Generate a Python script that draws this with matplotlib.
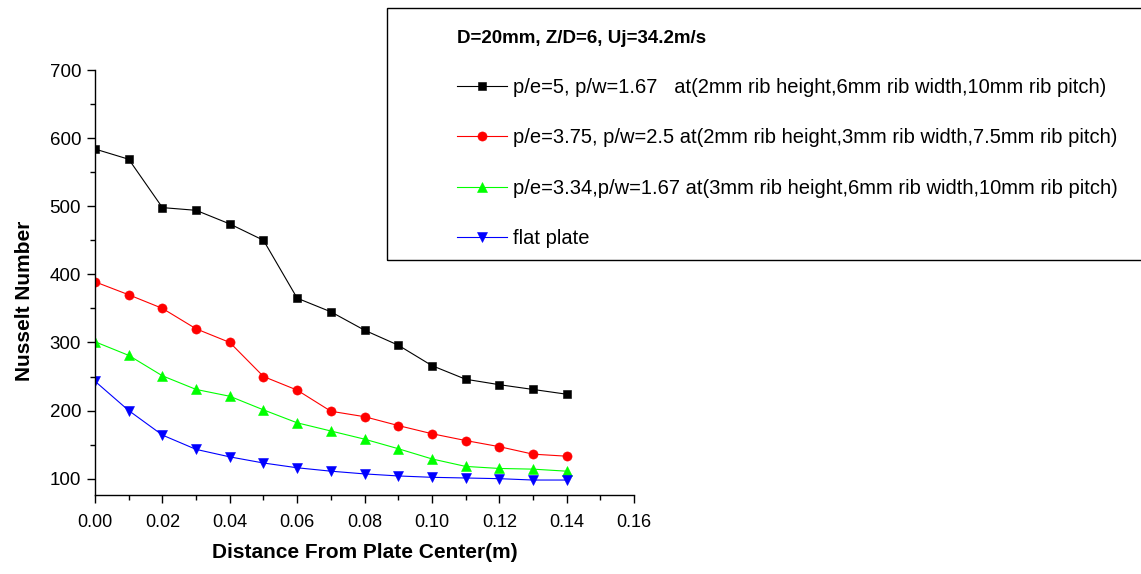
import matplotlib
matplotlib.use("Agg")
import matplotlib.pyplot as plt
from matplotlib.patches import Rectangle
from matplotlib.ticker import MultipleLocator, FormatStrFormatter

plt.rcParams['font.family'] = ['Liberation Sans', 'DejaVu Sans']

# distance from plate center (m)
distance = [0.00, 0.01, 0.02, 0.03, 0.04, 0.05, 0.06, 0.07,
            0.08, 0.09, 0.10, 0.11, 0.12, 0.13, 0.14]

# Nusselt number for each configuration
nu_pe5 = [584, 569, 498, 494, 474, 450, 365, 345, 318, 296, 266, 246, 238, 231, 224]
nu_pe375 = [389, 370, 350, 320, 300, 250, 230, 199, 191, 178, 166, 156, 147, 136, 133]
nu_pe334 = [301, 281, 251, 231, 221, 201, 182, 170, 158, 144, 129, 118, 115, 114, 111]
nu_flat = [243, 200, 164, 143, 132, 123, 116, 111, 107, 104, 102, 101, 100, 98, 98]

labels = [
    "p/e=5, p/w=1.67   at(2mm rib height,6mm rib width,10mm rib pitch)",
    "p/e=3.75, p/w=2.5 at(2mm rib height,3mm rib width,7.5mm rib pitch)",
    "p/e=3.34,p/w=1.67 at(3mm rib height,6mm rib width,10mm rib pitch)",
    "flat plate",
]
legend_title = "D=20mm, Z/D=6, Uj=34.2m/s"

fig = plt.figure(figsize=(11.41, 5.74), dpi=100)
ax = fig.add_axes([0.0833, 0.1376, 0.4724, 0.7404])

series = [
    (nu_pe5, '#000000', 's', 6.3),
    (nu_pe375, '#ff0000', 'o', 6.6),
    (nu_pe334, '#00ff00', '^', 7.2),
    (nu_flat, '#0000ff', 'v', 7.2),
]
handles = []
for (vals, col, mk, ms), lab in zip(series, labels):
    h, = ax.plot(distance, vals, color=col, marker=mk, markersize=ms,
                 markeredgecolor=col, markeredgewidth=0.4, linewidth=0.8,
                 label=lab)
    handles.append(h)

ax.set_xlim(0, 0.16)
ax.set_ylim(76, 700)
ax.xaxis.set_major_locator(MultipleLocator(0.02))
ax.xaxis.set_minor_locator(MultipleLocator(0.01))
ax.xaxis.set_major_formatter(FormatStrFormatter('%.2f'))
ax.yaxis.set_major_locator(MultipleLocator(100))
ax.yaxis.set_minor_locator(MultipleLocator(50))

for side in ['top', 'right']:
    ax.spines[side].set_visible(False)
for side in ['left', 'bottom']:
    ax.spines[side].set_linewidth(1.0)

ax.tick_params(which='major', direction='out', length=6, width=1.0)
ax.tick_params(which='minor', direction='out', length=3.5, width=1.0)
ax.tick_params(axis='x', which='major', labelsize=13, pad=8)
ax.tick_params(axis='y', which='major', labelsize=13.5, pad=4)

ax.set_xlabel("Distance From Plate Center(m)", fontsize=15, fontweight='bold')
ax.set_ylabel("Nusselt Number", fontsize=15, fontweight='bold')
ax.xaxis.set_label_coords(0.5, -0.112)
ax.yaxis.set_label_coords(-0.113, 0.456)

# legend frame, running off the right edge as in the original
fig.add_artist(Rectangle((387 / 1141, 1 - 260 / 574), (1160 - 387) / 1141,
                         (260 - 7.5) / 574, transform=fig.transFigure,
                         facecolor='none', edgecolor='black', linewidth=1.0,
                         clip_on=False))

leg = fig.legend(handles=handles, loc='upper left',
                 bbox_to_anchor=(457 / 1141, 1 - 30 / 574),
                 frameon=False, borderpad=0, fontsize=14.5,
                 title=legend_title, alignment='left',
                 title_fontproperties={'weight': 'bold', 'size': 13.5},
                 labelspacing=1.55, handlelength=2.5, handletextpad=0.3,
                 borderaxespad=0)

fig.savefig("out.png", dpi=100)
